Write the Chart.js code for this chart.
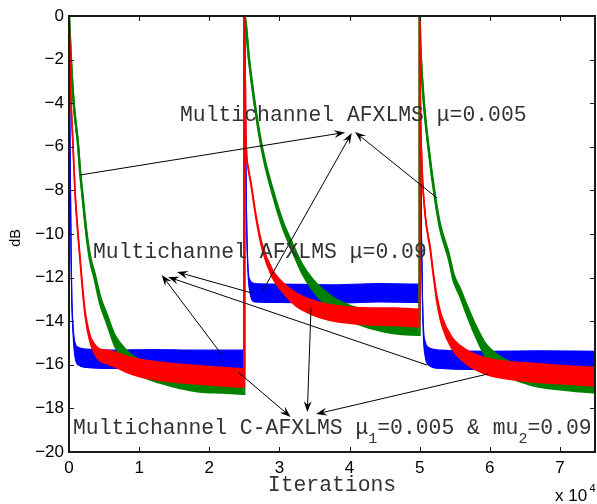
<!DOCTYPE html>
<html><head><meta charset="utf-8">
<script src="https://cdn.jsdelivr.net/npm/chart.js@4.4.0/dist/chart.umd.min.js"></script>
<style>html,body{margin:0;padding:0;background:#fff;}#wrap{width:597px;height:504px;}</style>
</head><body><div id="wrap"><canvas id="c" width="597" height="504"></canvas></div>
<script>
// ---- tick values / labels ----
const xTickValues = [0, 10000, 20000, 30000, 40000, 50000, 60000, 70000];
const xTickLabels = ['0', '1', '2', '3', '4', '5', '6', '7'];
const yTickValues = [-20, -18, -16, -14, -12, -10, -8, -6, -4, -2, 0];
const yTickLabels = ['\u221220', '\u221218', '\u221216', '\u221214', '\u221212', '\u221210', '\u22128', '\u22126', '\u22124', '\u22122', '0'];

// ---- series: mean learning curve (dB) ----
const blueIter = [0,150,300,400,600,850,1300,2500,6000,12000,18000,24999,
  25000,25150,25300,25500,25800,26500,30000,37000,44000,49999,
  50000,50100,50250,50400,50550,50800,51200,53000,60000,67000,75000];
const blueDB = [0,-6,-11,-13,-14.5,-15.3,-15.6,-15.7,-15.75,-15.72,-15.75,-15.75,
  0,-5,-9,-11.5,-12.4,-12.7,-12.72,-12.75,-12.7,-12.72,
  0,-5,-10,-13,-14.6,-15.3,-15.6,-15.75,-15.8,-15.78,-15.8];
// half width of the noise band (dB) at each point
const blueSpread = [0.05,0.05,0.05,0.1,0.2,0.32,0.4,0.42,0.42,0.42,0.42,0.42,
  0.05,0.05,0.05,0.1,0.28,0.42,0.42,0.42,0.42,0.42,
  0.05,0.05,0.05,0.1,0.22,0.34,0.4,0.42,0.42,0.42,0.42];

const redIter = [0,140,285,570,850,1280,1850,2280,2990,3700,4400,5500,6550,8000,10100,13000,16000,20000,24999,
  25000,25240,25570,25950,26660,27560,28980,30930,32350,34500,37100,41000,46580,49999,
  50000,50100,50330,50810,51520,51850,52230,52460,53170,54600,56500,59340,62500,65930,70000,75000];
const redDB = [0,-2,-3.85,-5.9,-8,-10,-12.2,-13.6,-14.8,-15.3,-15.55,-15.65,-15.75,-15.95,-16.15,-16.3,-16.4,-16.5,-16.6,
  0,-5.7,-7.0,-7.7,-9.2,-10.6,-11.8,-12.6,-13.0,-13.35,-13.6,-13.75,-13.8,-13.85,
  0,-3.85,-6.9,-9.2,-10.7,-11.6,-12.5,-13.0,-14.0,-15.0,-15.6,-16.05,-16.25,-16.35,-16.45,-16.55];
const redSpread = [0.05,0.05,0.05,0.05,0.06,0.08,0.1,0.12,0.16,0.22,0.27,0.31,0.34,0.37,0.4,0.42,0.42,0.42,0.42,
  0.05,0.05,0.05,0.06,0.08,0.12,0.18,0.24,0.3,0.33,0.36,0.38,0.4,0.4,
  0.05,0.05,0.05,0.05,0.07,0.09,0.12,0.15,0.2,0.27,0.32,0.37,0.4,0.42,0.42,0.42];

const greenIter = [0,285,670,1320,1570,1850,2500,3000,3700,4410,5410,6550,7970,9110,10530,12950,16000,18640,22000,24999,
  25000,25700,26420,27130,27850,28980,30410,31830,33250,34680,36100,38000,41000,45000,49999,
  50000,50100,50570,51280,52230,52940,54130,54840,55790,56500,57920,59340,61230,63000,66000,70000,75000];
const greenDB = [0,-2,-4,-6,-7.1,-8,-10,-11.1,-12,-13,-13.9,-14.9,-15.55,-15.9,-16.2,-16.45,-16.7,-16.85,-16.9,-16.95,
  0,-2.1,-3.9,-5.4,-6.6,-8.0,-9.5,-10.6,-11.6,-12.3,-12.8,-13.3,-13.75,-14.1,-14.25,
  0,-1.3,-3.85,-6.1,-8.4,-9.7,-11.0,-12.0,-12.7,-13.3,-14.4,-15.3,-15.9,-16.25,-16.55,-16.75,-16.9];
const greenSpread = [0.05,0.05,0.05,0.06,0.07,0.08,0.1,0.12,0.14,0.17,0.2,0.24,0.28,0.31,0.34,0.37,0.38,0.38,0.38,0.38,
  0.05,0.06,0.07,0.08,0.1,0.12,0.14,0.17,0.2,0.24,0.27,0.31,0.35,0.38,0.38,
  0.05,0.05,0.06,0.07,0.09,0.11,0.13,0.15,0.17,0.2,0.24,0.28,0.32,0.35,0.38,0.38,0.38];

// ---- annotation texts and arrows (data coordinates: iterations, dB) ----
const labelTexts = ['Multichannel AFXLMS \u03bc=0.005', 'Multichannel AFXLMS \u03bc=0.09'];
const labelAnchors = [[15830, -4.82], [3420, -11.11]];
const cLabelParts = ['Multichannel C-AFXLMS \u03bc', '1', '=0.005 & mu', '2', '=0.09'];
const cLabelAnchor = [570, -19.19];
const arrows = [
  [[1640, -7.29], [39360, -5.34]],
  [[27520, -12.66], [40310, -5.37]],
  [[52480, -8.35], [40780, -5.32]],
  [[21820, -15.55], [13220, -11.88]],
  [[51050, -16.01], [14120, -11.97]],
  [[26100, -12.71], [15400, -11.74]],
  [[24100, -16.33], [31610, -18.39]],
  [[34510, -13.39], [33980, -18.17]],
  [[59750, -16.42], [35220, -18.26]]
];

const MONO = '"Liberation Mono", "Courier New", monospace';
const SANS = '"Liberation Sans", Arial, Helvetica, sans-serif';

function bandSets(name, iter, db, spread, color, width, ord) {
  const common = { borderColor: color, backgroundColor: color, borderWidth: width, pointRadius: 0,
    cubicInterpolationMode: 'monotone', order: ord };
  return [
    Object.assign({ label: name + ' upper', data: iter.map((v, i) => ({ x: v, y: db[i] + spread[i] })), fill: false }, common),
    Object.assign({ label: name + ' lower', data: iter.map((v, i) => ({ x: v, y: db[i] - spread[i] })), fill: '-1' }, common)
  ];
}

const datasets = [
  ...bandSets('red', redIter, redDB, redSpread, '#ff0000', 1.6, 1),
  ...bandSets('green', greenIter, greenDB, greenSpread, '#008000', 2.2, 2),
  ...bandSets('blue', blueIter, blueDB, blueSpread, '#0000ff', 1.2, 3)
];

function drawArrow(ctx, x1, y1, x2, y2) {
  const ang = Math.atan2(y2 - y1, x2 - x1);
  const L = 11, W = 4, N = 7;
  const c = Math.cos(ang), s = Math.sin(ang);
  ctx.beginPath();
  ctx.moveTo(x1, y1);
  ctx.lineTo(x2 - c * N, y2 - s * N);
  ctx.stroke();
  ctx.beginPath();
  ctx.moveTo(x2, y2);
  ctx.lineTo(x2 - c * L - s * W, y2 - s * L + c * W);
  ctx.lineTo(x2 - c * N, y2 - s * N);
  ctx.lineTo(x2 - c * L + s * W, y2 - s * L - c * W);
  ctx.closePath();
  ctx.fill();
}

const decor = {
  id: 'decor',
  afterDatasetsDraw(chart) {
    const { ctx, chartArea: a, scales: { x, y } } = chart;
    ctx.save();
    // frame and inward ticks
    ctx.strokeStyle = '#1a1a1a';
    ctx.lineWidth = 1;
    ctx.beginPath();
    xTickValues.forEach(v => {
      const px = Math.round(x.getPixelForValue(v)) + 0.5;
      ctx.moveTo(px, a.bottom); ctx.lineTo(px, a.bottom - 5);
      ctx.moveTo(px, a.top); ctx.lineTo(px, a.top + 5);
    });
    yTickValues.forEach(v => {
      const py = Math.round(y.getPixelForValue(v)) + 0.5;
      ctx.moveTo(a.left, py); ctx.lineTo(a.left + 5, py);
      ctx.moveTo(a.right, py); ctx.lineTo(a.right - 5, py);
    });
    ctx.stroke();
    ctx.lineWidth = 2;
    ctx.strokeRect(a.left, a.top, a.right - a.left, a.bottom - a.top);

    // arrows
    ctx.strokeStyle = '#000'; ctx.fillStyle = '#000'; ctx.lineWidth = 1;
    arrows.forEach(([s, t]) => {
      drawArrow(ctx, x.getPixelForValue(s[0]), y.getPixelForValue(s[1]), x.getPixelForValue(t[0]), y.getPixelForValue(t[1]));
    });

    // annotation texts
    ctx.fillStyle = '#333';
    ctx.textBaseline = 'alphabetic';
    ctx.textAlign = 'left';
    ctx.font = '21.4px ' + MONO;
    labelTexts.forEach((t, i) => {
      ctx.fillText(t, x.getPixelForValue(labelAnchors[i][0]), y.getPixelForValue(labelAnchors[i][1]));
    });
    let cx = x.getPixelForValue(cLabelAnchor[0]);
    const cy = y.getPixelForValue(cLabelAnchor[1]);
    cLabelParts.forEach((t, i) => {
      const sub = i % 2 === 1;
      ctx.font = (sub ? '15px ' : '21.4px ') + MONO;
      ctx.fillText(t, cx, cy + (sub ? 9 : 0));
      cx += ctx.measureText(t).width;
    });

    // axis titles
    ctx.font = '21.4px ' + MONO;
    ctx.textAlign = 'center';
    ctx.fillText('Iterations', (a.left + a.right) / 2, 491);
    ctx.fillStyle = '#000';
    ctx.font = '17px ' + SANS;
    ctx.textAlign = 'left';
    ctx.fillText('x 10', 555, 500.5);
    ctx.font = '11px ' + SANS;
    ctx.fillText('4', 589.5, 491.5);
    ctx.save();
    ctx.translate(19.5, 238);
    ctx.rotate(-Math.PI / 2);
    ctx.font = '14.5px ' + SANS;
    ctx.textAlign = 'center';
    ctx.fillText('dB', 0, 0);
    ctx.restore();
    ctx.restore();
  }
};

new Chart(document.getElementById('c'), {
  type: 'line',
  data: { datasets },
  options: {
    responsive: false,
    animation: false,
    devicePixelRatio: 1,
    layout: { padding: { left: 0, right: 2, top: 16, bottom: 0 } },
    plugins: { legend: { display: false }, tooltip: { enabled: false } },
    scales: {
      x: {
        type: 'linear', min: 0, max: 75000,
        afterBuildTicks: s => { s.ticks = xTickValues.map(v => ({ value: v })); },
        afterFit: s => { s.height = 52; },
        ticks: { callback: (v, i) => xTickLabels[i], autoSkip: false, maxRotation: 0, padding: 6,
          font: { family: SANS, size: 17 }, color: '#000' },
        grid: { display: false, drawTicks: false },
        border: { display: false }
      },
      y: {
        type: 'linear', min: -20, max: 0,
        afterBuildTicks: s => { s.ticks = yTickValues.map(v => ({ value: v })); },
        afterFit: s => { s.width = 69; },
        ticks: { callback: (v, i) => yTickLabels[i], autoSkip: false, padding: 5,
          font: { family: SANS, size: 17 }, color: '#000' },
        grid: { display: false, drawTicks: false },
        border: { display: false }
      }
    }
  },
  plugins: [decor]
});
</script></body></html>
